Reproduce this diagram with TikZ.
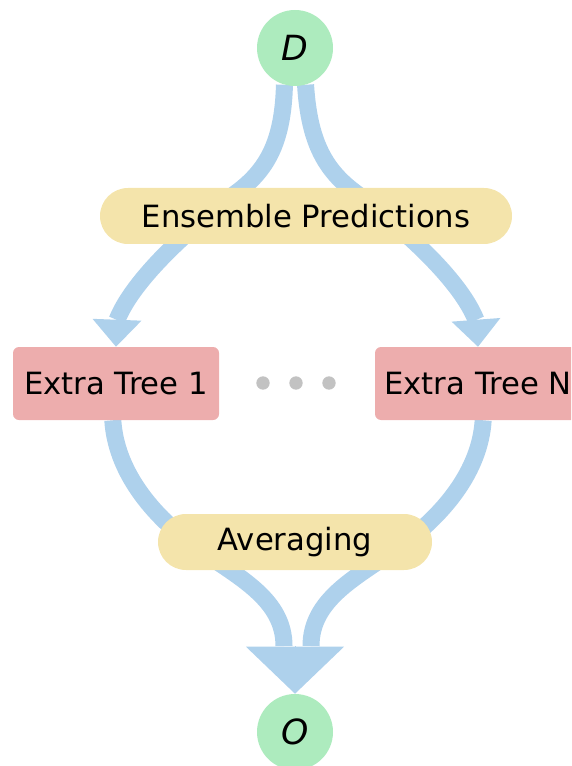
\documentclass[tikz,border=0pt]{standalone}
\usepackage{fontspec}
\setmainfont{DejaVu Sans}
\usetikzlibrary{arrows.meta}
\pgfdeclarelayer{bg}
\pgfsetlayers{bg,main}
\definecolor{cgreen}{HTML}{ADEBBE}
\definecolor{cyellow}{HTML}{F4E4AB}
\definecolor{cpink}{HTML}{EDADAD}
\definecolor{cblue}{HTML}{AED1EC}
\definecolor{cdot}{HTML}{C2C2C2}
\begin{document}
\begin{tikzpicture}[x=0.75pt,y=-0.75pt,
  txt/.style={font=\fontsize{23}{27}\selectfont},
  term/.style={circle,fill=cgreen,minimum size=57pt,inner sep=0pt,font=\fontsize{26}{30}\selectfont\itshape},
  pill/.style={rounded corners=21pt,fill=cyellow,minimum height=42pt,inner sep=0pt,txt},
  tree/.style={rounded corners=4.5pt,fill=cpink,minimum width=154.5pt,minimum height=54.75pt,inner sep=0pt,txt},
  dotn/.style={circle,fill=cdot,minimum size=10pt,inner sep=0pt},
  flow/.style={draw=cblue,line width=12.75pt},
  tipsmall/.style={draw=cblue,line width=0.1pt,-{Triangle[width=36.75pt,length=20.25pt,line width=0pt]}},
  tipbig/.style={draw=cblue,line width=0.1pt,-{Triangle[width=73.5pt,length=35.25pt,line width=0pt]}},
]
\useasboundingbox (0,0) rectangle (571,766);
\clip (0,0) rectangle (571,766);

\node[term] (D) at (295,48) {D};
\node[pill,minimum width=309pt] (E) at (306,216) {Ensemble Predictions};
\node[tree] (T1) at (116,383.5) {Extra Tree 1};
\node[tree] (TN) at (478,383.5) {Extra Tree N};
\node[dotn] (d1) at (263,383) {};
\node[dotn] (d2) at (296,383) {};
\node[dotn] (d3) at (329,383) {};
\node[pill,minimum width=205.5pt] (A) at (295,542) {Averaging};
\node[term] (O) at (295,732) {O};

\coordinate (aL) at (117,320);
\coordinate (aR) at (476,320);
\coordinate (mL) at (284,646);
\coordinate (mR) at (311,646);
\coordinate (mC) at (295,646);

\begin{pgfonlayer}{bg}
\draw[flow] (D.-106) .. controls (283,140) and (268,168) .. (240,190)
  .. controls (200,220) and (135,275) .. (aL);
\draw[tipsmall] (aL) -- (T1.north);
\draw[flow] (D.-74) .. controls (309,140) and (324,168) .. (352,190)
  .. controls (392,220) and (458,275) .. (aR);
\draw[tipsmall] (aR) -- (TN.north);
\draw[flow] (T1.-95) .. controls (116,470) and (150,515) .. (200,550)
  .. controls (240,578) and (284,600) .. (mL);
\draw[flow] (TN.-82) .. controls (480,470) and (445,515) .. (395,550)
  .. controls (355,578) and (311,600) .. (mR);
\draw[tipbig] (mC) -- (O.north);
\end{pgfonlayer}
\end{tikzpicture}
\end{document}
